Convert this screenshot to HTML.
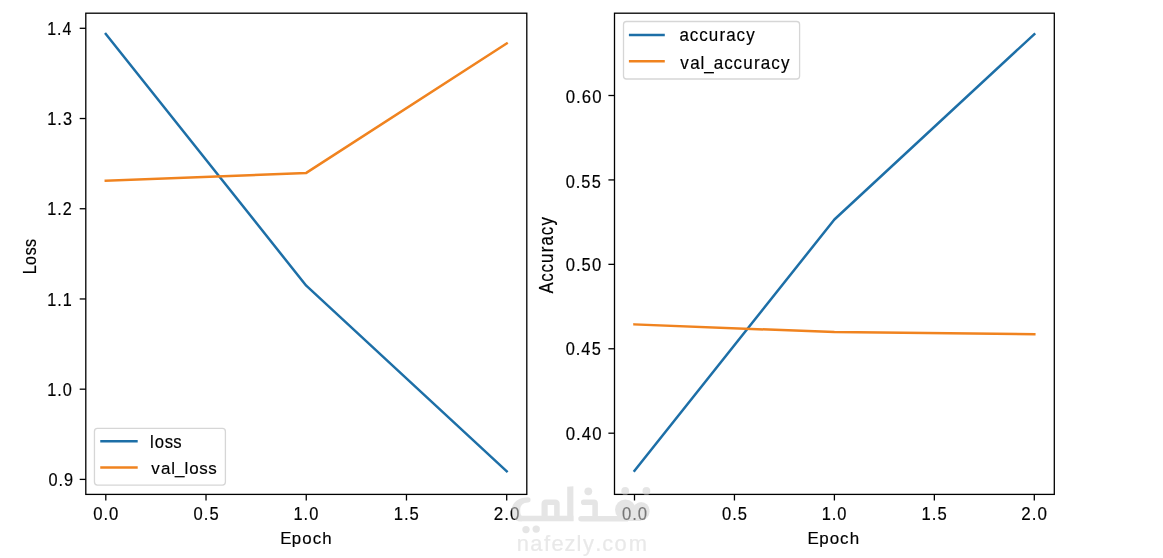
<!DOCTYPE html>
<html><head><meta charset="utf-8"><style>
html,body{margin:0;padding:0;background:#fff;}
body{width:1163px;height:558px;overflow:hidden;}
svg{display:block;will-change:transform;filter:blur(0.4px);}
text{font-family:"Liberation Sans", sans-serif;}
</style></head><body>
<svg width="1163" height="558" viewBox="0 0 1163 558">
<rect x="0" y="0" width="1163" height="558" fill="#fff"/>
<polyline points="105.8,34.0 306.25,285.7 506.7,471.3" fill="none" stroke="#1d6fa7" stroke-width="2.5" stroke-linecap="square" stroke-linejoin="round"/>
<polyline points="105.8,180.8 306.25,172.9 506.7,43.4" fill="none" stroke="#f0831f" stroke-width="2.5" stroke-linecap="square" stroke-linejoin="round"/>
<polyline points="634.5,470.8 834.4,219.5 1034.3,34.2" fill="none" stroke="#1d6fa7" stroke-width="2.5" stroke-linecap="square" stroke-linejoin="round"/>
<polyline points="634.5,324.4 834.4,332.1 1034.3,334.2" fill="none" stroke="#f0831f" stroke-width="2.5" stroke-linecap="square" stroke-linejoin="round"/>
<rect x="85.8" y="13.2" width="441.00" height="481.20" fill="none" stroke="#000" stroke-width="1.3" stroke-linejoin="miter"/>
<line x1="105.80" y1="494.4" x2="105.80" y2="500.5" stroke="#000" stroke-width="1.3" stroke-linecap="butt"/>
<line x1="206.02" y1="494.4" x2="206.02" y2="500.5" stroke="#000" stroke-width="1.3" stroke-linecap="butt"/>
<line x1="306.25" y1="494.4" x2="306.25" y2="500.5" stroke="#000" stroke-width="1.3" stroke-linecap="butt"/>
<line x1="406.47" y1="494.4" x2="406.47" y2="500.5" stroke="#000" stroke-width="1.3" stroke-linecap="butt"/>
<line x1="506.70" y1="494.4" x2="506.70" y2="500.5" stroke="#000" stroke-width="1.3" stroke-linecap="butt"/>
<line x1="79.7" y1="28.30" x2="85.8" y2="28.30" stroke="#000" stroke-width="1.3" stroke-linecap="butt"/>
<line x1="79.7" y1="118.52" x2="85.8" y2="118.52" stroke="#000" stroke-width="1.3" stroke-linecap="butt"/>
<line x1="79.7" y1="208.74" x2="85.8" y2="208.74" stroke="#000" stroke-width="1.3" stroke-linecap="butt"/>
<line x1="79.7" y1="298.96" x2="85.8" y2="298.96" stroke="#000" stroke-width="1.3" stroke-linecap="butt"/>
<line x1="79.7" y1="389.18" x2="85.8" y2="389.18" stroke="#000" stroke-width="1.3" stroke-linecap="butt"/>
<line x1="79.7" y1="479.40" x2="85.8" y2="479.40" stroke="#000" stroke-width="1.3" stroke-linecap="butt"/>
<rect x="614.5" y="13.2" width="439.80" height="481.20" fill="none" stroke="#000" stroke-width="1.3" stroke-linejoin="miter"/>
<line x1="634.50" y1="494.4" x2="634.50" y2="500.5" stroke="#000" stroke-width="1.3" stroke-linecap="butt"/>
<line x1="734.45" y1="494.4" x2="734.45" y2="500.5" stroke="#000" stroke-width="1.3" stroke-linecap="butt"/>
<line x1="834.40" y1="494.4" x2="834.40" y2="500.5" stroke="#000" stroke-width="1.3" stroke-linecap="butt"/>
<line x1="934.35" y1="494.4" x2="934.35" y2="500.5" stroke="#000" stroke-width="1.3" stroke-linecap="butt"/>
<line x1="1034.30" y1="494.4" x2="1034.30" y2="500.5" stroke="#000" stroke-width="1.3" stroke-linecap="butt"/>
<line x1="608.4" y1="95.50" x2="614.5" y2="95.50" stroke="#000" stroke-width="1.3" stroke-linecap="butt"/>
<line x1="608.4" y1="179.92" x2="614.5" y2="179.92" stroke="#000" stroke-width="1.3" stroke-linecap="butt"/>
<line x1="608.4" y1="264.35" x2="614.5" y2="264.35" stroke="#000" stroke-width="1.3" stroke-linecap="butt"/>
<line x1="608.4" y1="348.77" x2="614.5" y2="348.77" stroke="#000" stroke-width="1.3" stroke-linecap="butt"/>
<line x1="608.4" y1="433.20" x2="614.5" y2="433.20" stroke="#000" stroke-width="1.3" stroke-linecap="butt"/>
<rect x="94.45" y="428.4" width="130.95" height="56.70" rx="3" ry="3" fill="#fff" fill-opacity="0.8" stroke="#d6d6d6" stroke-width="1.3"/>
<line x1="101.5" y1="441.3" x2="136.45" y2="441.3" stroke="#1d6fa7" stroke-width="2.5" stroke-linecap="square"/>
<line x1="101.5" y1="467.5" x2="136.45" y2="467.5" stroke="#f0831f" stroke-width="2.5" stroke-linecap="square"/>
<rect x="623.5" y="21.5" width="176.10" height="57.50" rx="3" ry="3" fill="#fff" fill-opacity="0.8" stroke="#d6d6d6" stroke-width="1.3"/>
<line x1="630.15" y1="34.9" x2="663.55" y2="34.9" stroke="#1d6fa7" stroke-width="2.5" stroke-linecap="square"/>
<line x1="630.15" y1="61.2" x2="663.55" y2="61.2" stroke="#f0831f" stroke-width="2.5" stroke-linecap="square"/>
<text transform="matrix(0.15915 0 0 0.17900 46.659 34.950)" font-size="100" x="4.00 65.62 99.41" fill="#000" stroke="#000" stroke-width="1.0">1.4</text>
<text transform="matrix(0.16386 0 0 0.18169 46.608 125.068)" font-size="100" x="4.00 65.62 99.41" fill="#000" stroke="#000" stroke-width="1.0">1.3</text>
<text transform="matrix(0.16207 0 0 0.18429 46.627 215.410)" font-size="100" x="4.00 65.62 99.41" fill="#000" stroke="#000" stroke-width="1.0">1.2</text>
<text transform="matrix(0.16207 0 0 0.18261 46.627 306.450)" font-size="100" x="4.00 65.62 99.41" fill="#000" stroke="#000" stroke-width="1.0">1.1</text>
<text transform="matrix(0.16270 0 0 0.17746 46.620 396.273)" font-size="100" x="4.00 65.62 99.41" fill="#000" stroke="#000" stroke-width="1.0">1.0</text>
<text transform="matrix(0.16319 0 0 0.17746 47.808 486.273)" font-size="100" x="4.00 65.62 99.41" fill="#000" stroke="#000" stroke-width="1.0">0.9</text>
<text transform="matrix(0.16779 0 0 0.18310 564.975 102.967)" font-size="100" x="4.00 65.62 99.41 163.04" fill="#000" stroke="#000" stroke-width="1.0">0.60</text>
<text transform="matrix(0.16394 0 0 0.18169 565.002 187.668)" font-size="100" x="4.00 65.62 99.41 163.04" fill="#000" stroke="#000" stroke-width="1.0">0.55</text>
<text transform="matrix(0.16635 0 0 0.17746 564.986 271.373)" font-size="100" x="4.00 65.62 99.41 163.04" fill="#000" stroke="#000" stroke-width="1.0">0.50</text>
<text transform="matrix(0.16394 0 0 0.18169 565.002 355.068)" font-size="100" x="4.00 65.62 99.41 163.04" fill="#000" stroke="#000" stroke-width="1.0">0.45</text>
<text transform="matrix(0.16779 0 0 0.17887 564.975 439.971)" font-size="100" x="4.00 65.62 99.41 163.04" fill="#000" stroke="#000" stroke-width="1.0">0.40</text>
<text transform="matrix(0.16690 0 0 0.18028 92.532 520.370)" font-size="100" x="4.00 65.62 99.41" fill="#000" stroke="#000" stroke-width="1.0">0.0</text>
<text transform="matrix(0.16563 0 0 0.18028 192.941 520.370)" font-size="100" x="4.00 65.62 99.41" fill="#000" stroke="#000" stroke-width="1.0">0.5</text>
<text transform="matrix(0.16454 0 0 0.18028 292.840 520.370)" font-size="100" x="4.00 65.62 99.41" fill="#000" stroke="#000" stroke-width="1.0">1.0</text>
<text transform="matrix(0.16643 0 0 0.18286 392.994 520.367)" font-size="100" x="4.00 65.62 99.41" fill="#000" stroke="#000" stroke-width="1.0">1.5</text>
<text transform="matrix(0.16993 0 0 0.18028 493.021 520.370)" font-size="100" x="4.00 65.62 99.41" fill="#000" stroke="#000" stroke-width="1.0">2.0</text>
<text transform="matrix(0.16690 0 0 0.18028 621.232 520.370)" font-size="100" x="4.00 65.62 99.41" fill="#000" stroke="#000" stroke-width="1.0">0.0</text>
<text transform="matrix(0.16562 0 0 0.18028 721.366 520.370)" font-size="100" x="4.00 65.62 99.41" fill="#000" stroke="#000" stroke-width="1.0">0.5</text>
<text transform="matrix(0.16454 0 0 0.18028 820.990 520.370)" font-size="100" x="4.00 65.62 99.41" fill="#000" stroke="#000" stroke-width="1.0">1.0</text>
<text transform="matrix(0.16643 0 0 0.18286 920.869 520.367)" font-size="100" x="4.00 65.62 99.41" fill="#000" stroke="#000" stroke-width="1.0">1.5</text>
<text transform="matrix(0.16993 0 0 0.18028 1020.621 520.370)" font-size="100" x="4.00 65.62 99.41" fill="#000" stroke="#000" stroke-width="1.0">2.0</text>
<text transform="matrix(0.16862 0 0 0.17128 280.538 543.953)" font-size="100" x="-1.76 67.11 129.44 190.33 246.70" fill="#000" stroke="#000" stroke-width="1.0">Epoch</text>
<text transform="matrix(0.16966 0 0 0.17128 807.832 543.953)" font-size="100" x="-1.76 67.11 129.44 190.33 246.70" fill="#000" stroke="#000" stroke-width="1.0">Epoch</text>
<text transform="matrix(0 -0.16124 0.17857 0 35.671 274.340)" font-size="100" x="0.05 58.50 117.94 170.04" fill="#000" stroke="#000" stroke-width="1.0">Loss</text>
<text transform="matrix(0 -0.16865 0.19944 0 553.362 293.619)" font-size="100" x="0.85 70.90 125.88 182.25 245.65 285.69 346.63 403.71" fill="#000" stroke="#000" stroke-width="1.0">Accuracy</text>
<text transform="matrix(0.16667 0 0 0.18243 149.650 447.768)" font-size="100" x="2.78 30.57 90.01 142.11" fill="#000" stroke="#000" stroke-width="1.0">loss</text>
<text transform="matrix(0.16945 0 0 0.17312 150.472 474.188)" font-size="100" x="4.59 62.01 123.24 145.43 201.03 228.81 288.26 340.36" fill="#000" stroke="#000" stroke-width="1.0">val_loss</text>
<text transform="matrix(0.16955 0 0 0.18533 679.063 40.758)" font-size="100" x="2.83 63.77 118.75 175.12 238.53 278.56 339.50 396.58" fill="#000" stroke="#000" stroke-width="1.0">accuracy</text>
<text transform="matrix(0.17036 0 0 0.17447 679.569 68.786)" font-size="100" x="4.59 62.01 123.24 145.43 201.07 262.01 316.99 373.36 436.77 476.81 537.74 594.82" fill="#000" stroke="#000" stroke-width="1.0">val_accuracy</text>
<text transform="matrix(0.21887 0 0 0.21915 515.861 551.448)" font-size="100" x="3.88 66.21 128.37 162.82 222.63 276.66 306.25 362.84 395.12 450.39 515.84" fill="#e9e9e9" stroke="#e9e9e9" stroke-width="1.0">nafezly.com</text>
<g opacity="0.56">
<path d="M528,497.2 C520,497.2 511.8,501.5 511.8,510 C511.8,517 515,521.3 520,521.3 L522,521.3 L522,515.8 C520.8,515.8 520.2,513 520.2,510 C520.2,505.5 523,502.4 528,502.4 A2.6,2.6 0 0 0 528,497.2 Z" fill="#d2d2d2"/>
<path d="M518,515.8 L573.4,515.8 L573.4,521.3 L518,521.3 Z" fill="#d2d2d2"/>
<path d="M567.2,486.8 L573.4,486.3 L573.4,521 L567.2,521 Z" fill="#d2d2d2"/>
<path d="M541.5,518 L541.5,504 Q541.5,499.5 546,499.5 L555.2,499.5 Q559.7,499.5 559.7,504 L559.7,518 L554.1,518 L554.1,505.1 L547.7,505.1 L547.7,518 Z" fill="#d2d2d2"/>
<path d="M583.7,499.4 L594,499.4 Q597.9,499.4 597.9,503.5 L597.9,518 L592.3,518 L592.3,505 L583.7,505 A2.8,2.8 0 0 1 583.7,499.4 Z" fill="#d2d2d2"/>
<path d="M581,516 L628,516 L628,521.5 L581,521.5 A2.75,2.75 0 0 1 581,516 Z" fill="#d2d2d2"/>
<circle cx="625.4" cy="509.8" r="10.4" fill="#d2d2d2"/>
<ellipse cx="641.2" cy="511.2" rx="8.4" ry="9.3" fill="#d2d2d2"/>
<path d="M625,510 L641,510 L641,521 L625,521 Z" fill="#d2d2d2"/>
<circle cx="588.3" cy="491.3" r="3.9" fill="#d2d2d2"/>
<circle cx="625.2" cy="490.9" r="3.9" fill="#d2d2d2"/>
<circle cx="646.4" cy="490.9" r="3.9" fill="#d2d2d2"/>
<circle cx="526" cy="529.6" r="3.7" fill="#d2d2d2"/>
<circle cx="536.2" cy="529.1" r="3.7" fill="#d2d2d2"/>
</g>
</svg>
</body></html>
